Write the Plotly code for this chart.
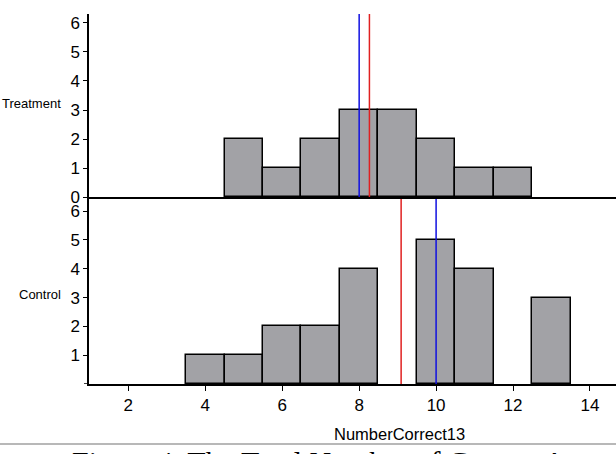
import numpy as np
import plotly.graph_objects as go

# ---- data ----
treat_x = [5, 6, 7, 8, 9, 10, 11, 12]
treat_counts = [2, 1, 2, 3, 3, 2, 1, 1]
ctrl_x = [4, 5, 6, 7, 8, 10, 11, 13]
ctrl_counts = [1, 1, 2, 2, 4, 5, 4, 3]
x_ticks = [2, 4, 6, 8, 10, 12, 14]
y_ticks_top = [0, 1, 2, 3, 4, 5, 6]
y_ticks_bottom = [1, 2, 3, 4, 5, 6]
group_labels = ["Treatment", "Control"]
x_title = "NumberCorrect13"
caption = "Figure 4. The Total Number of Correct Answers"

W, H = 616, 454
def px(x):
    return x / W
def py(y):
    return 1 - y / H

def stats(x, c):
    v = np.repeat(x, c)
    return float(v.mean()), float(np.median(v))

t_mean, t_med = stats(treat_x, treat_counts)
c_mean, c_med = stats(ctrl_x, ctrl_counts)

FONT = "Liberation Sans, Arial, sans-serif"
BAR = "#a2a2a6"

fig = go.Figure()
fig.add_trace(go.Bar(x=treat_x, y=treat_counts, width=1, xaxis="x", yaxis="y",
                     marker=dict(color=BAR, line=dict(color="black", width=1.5)),
                     showlegend=False))
fig.add_trace(go.Bar(x=ctrl_x, y=ctrl_counts, width=1, xaxis="x2", yaxis="y2",
                     marker=dict(color=BAR, line=dict(color="black", width=1.5)),
                     showlegend=False))

xr = [0.978, 14.676]
fig.update_layout(
    template="none",
    width=W, height=H, margin=dict(l=0, r=0, t=0, b=0, pad=0), autosize=False,
    paper_bgcolor="white", plot_bgcolor="white",
    font=dict(family=FONT, size=17, color="black"),
    bargap=0,
    xaxis=dict(domain=[px(89), 1], range=xr, anchor="y", showline=True, linecolor="black",
               linewidth=1.5, showticklabels=False, ticks="", showgrid=False, zeroline=False,
               automargin=False),
    yaxis=dict(domain=[py(197), py(14)], range=[0, 6.31], anchor="x", showline=True,
               linecolor="black", linewidth=1.5, tickvals=y_ticks_top, ticks="outside",
               ticklen=4, tickwidth=1, tickcolor="black", showgrid=False, zeroline=False,
               ticklabelstandoff=0, automargin=False),
    xaxis2=dict(domain=[px(89), 1], range=xr, anchor="y2", showline=True, linecolor="black",
                linewidth=1.5, tickvals=x_ticks, ticks="outside", ticklen=5, tickwidth=1,
                tickcolor="black", showgrid=False, zeroline=False, automargin=False),
    yaxis2=dict(domain=[py(384), py(199)], range=[0, 6.42], anchor="x2", showline=True,
                linecolor="black", linewidth=1.5, tickvals=y_ticks_bottom, ticks="outside",
                ticklen=4, tickwidth=1, tickcolor="black", showgrid=False, zeroline=False,
                ticklabelstandoff=0, automargin=False),
)

shapes = []
for val, col, ref in [(t_med, "#1010e0", "y"), (t_mean, "#e02020", "y"),
                      (c_mean, "#e02020", "y2"), (c_med, "#1010e0", "y2")]:
    xref = "x" if ref == "y" else "x2"
    shapes.append(dict(type="line", xref=xref, yref=ref + " domain", x0=val, x1=val,
                       y0=0, y1=1, line=dict(color=col, width=1.5)))
# short extension of the bottom axis line to the left of the y axis
shapes.append(dict(type="line", xref="paper", yref="y2", x0=px(84), x1=px(89), y0=0, y1=0,
                   line=dict(color="black", width=1.5)))
shapes.append(dict(type="line", xref="paper", yref="paper", x0=0, x1=1, y0=py(444), y1=py(444),
                   line=dict(color="#a0a0a0", width=1.5)))
fig.update_layout(shapes=shapes)

ann = [
    dict(text=group_labels[0], x=px(63), y=py(103), xref="paper", yref="paper",
         xanchor="right", yanchor="middle", showarrow=False, font=dict(size=13)),
    dict(text=group_labels[1], x=px(63), y=py(294), xref="paper", yref="paper",
         xanchor="right", yanchor="middle", showarrow=False, font=dict(size=13)),
    dict(text=x_title, x=px(399), y=py(434), xref="paper", yref="paper",
         xanchor="center", yanchor="middle", showarrow=False, font=dict(size=16.5)),
    dict(text=caption, x=px(70), y=py(443), xref="paper", yref="paper",
         xanchor="left", yanchor="top", showarrow=False,
         font=dict(family="Liberation Serif, Times New Roman, serif", size=30)),
]
fig.update_layout(annotations=ann)

fig.write_html("out.html", config={"responsive": False})
